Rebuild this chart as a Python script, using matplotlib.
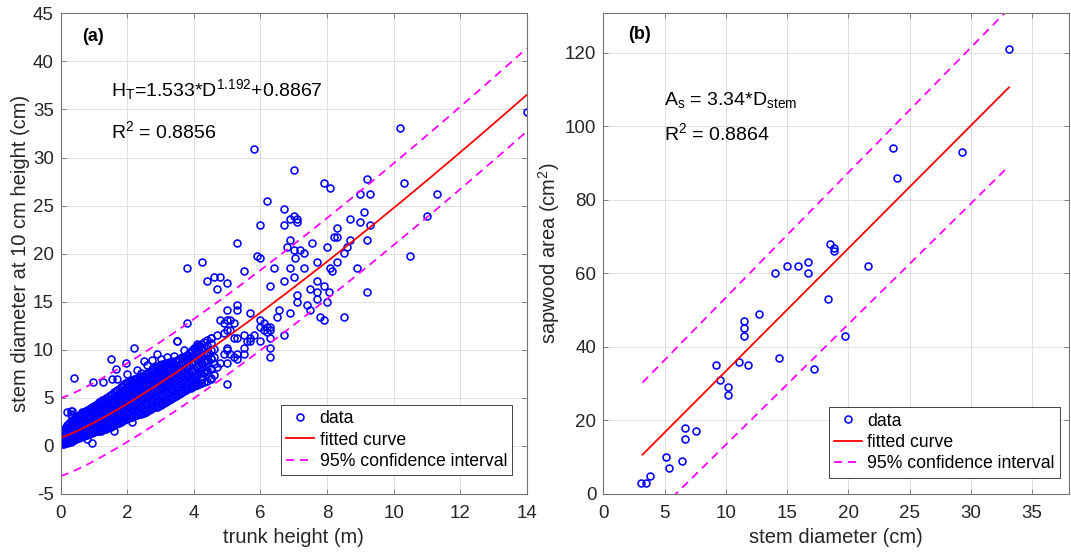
import numpy as np
import matplotlib.pyplot as plt

plt.rcParams['font.family'] = ['Liberation Sans', 'DejaVu Sans']
plt.rcParams['mathtext.fontset'] = 'custom'
plt.rcParams['mathtext.rm'] = 'Liberation Sans'
plt.rcParams['mathtext.it'] = 'Liberation Sans:italic'
plt.rcParams['axes.unicode_minus'] = False

# ---- panel (a): trunk height vs stem diameter ----
# dense part of the cloud, one column of diameters per trunk height
dense_cols = [
    (0.05, [0.2, 0.3, 0.5, 0.8, 1.1, 1.4]),
    (0.10, [0.2, 0.4, 0.6, 0.9, 1.2, 1.5, 1.8]),
    (0.15, [0.3, 0.5, 0.8, 1.0, 1.3, 1.7, 2.0]),
    (0.20, [0.3, 0.5, 0.7, 1.1, 1.4, 1.8, 2.2, 3.5]),
    (0.25, [0.4, 0.6, 0.9, 1.2, 1.6, 1.9, 2.4]),
    (0.30, [0.4, 0.7, 1.0, 1.3, 1.7, 2.1, 2.6, 3.3]),
    (0.35, [0.5, 0.8, 1.1, 1.5, 1.9, 2.3, 2.7, 3.6]),
    (0.40, [0.6, 0.9, 1.2, 1.6, 2.0, 2.5, 2.8]),
    (0.45, [0.7, 1.0, 1.4, 1.7, 2.2, 2.6, 3.0]),
    (0.50, [0.8, 1.1, 1.5, 1.9, 2.3, 2.7, 3.0]),
    (0.55, [0.8, 1.2, 1.6, 2.0, 2.5, 2.9, 3.2]),
    (0.60, [0.9, 1.3, 1.7, 2.1, 2.6, 3.0, 3.3]),
    (0.65, [1.0, 1.4, 1.8, 2.3, 2.7, 3.1, 3.5]),
    (0.70, [1.0, 1.4, 1.9, 2.4, 2.8, 3.2, 3.5]),
    (0.75, [1.1, 1.5, 2.0, 2.5, 2.9, 3.3, 3.6]),
    (0.80, [0.7, 1.1, 1.6, 2.1, 2.5, 3.0, 3.4, 3.7]),
    (0.85, [1.2, 1.7, 2.2, 2.6, 3.1, 3.5, 3.8]),
    (0.90, [1.3, 1.8, 2.3, 2.7, 3.2, 3.6, 3.9]),
    (0.95, [0.3, 1.3, 1.8, 2.3, 2.8, 3.3, 3.7, 4.1]),
    (1.00, [1.4, 1.9, 2.4, 2.9, 3.4, 3.8, 4.2]),
    (1.05, [1.5, 2.0, 2.5, 3.0, 3.5, 4.0, 4.3]),
    (1.10, [1.5, 2.0, 2.6, 3.1, 3.6, 4.1, 4.4]),
    (1.15, [1.6, 2.1, 2.6, 3.1, 3.7, 4.2, 4.6]),
    (1.20, [1.6, 2.2, 2.7, 3.2, 3.8, 4.3, 4.6]),
    (1.25, [1.7, 2.2, 2.8, 3.3, 3.9, 4.4, 4.8]),
    (1.30, [1.8, 2.3, 2.9, 3.4, 4.0, 4.5, 4.8]),
    (1.35, [1.8, 2.4, 3.0, 3.5, 4.1, 4.6, 5.0]),
    (1.40, [1.9, 2.5, 3.0, 3.6, 4.2, 4.7, 5.0]),
    (1.45, [2.0, 2.5, 3.1, 3.7, 4.3, 4.8, 5.2]),
    (1.50, [2.0, 2.6, 3.2, 3.8, 4.4, 4.9, 5.3]),
    (1.55, [2.1, 2.7, 3.3, 3.9, 4.5, 5.0, 5.4]),
    (1.60, [1.6, 2.2, 2.8, 3.4, 4.0, 4.6, 5.1, 5.6]),
    (1.65, [2.3, 2.9, 3.5, 4.1, 4.7, 5.2, 5.7]),
    (1.70, [2.4, 3.0, 3.6, 4.2, 4.8, 5.3, 5.8]),
    (1.75, [2.4, 3.0, 3.7, 4.3, 4.9, 5.4, 5.9]),
    (1.80, [2.5, 3.1, 3.8, 4.4, 5.0, 5.6, 6.1]),
    (1.85, [2.6, 3.2, 3.9, 4.5, 5.1, 5.7, 6.2]),
    (1.90, [2.7, 3.3, 4.0, 4.6, 5.2, 5.8, 6.4]),
    (1.95, [2.8, 3.4, 4.1, 4.7, 5.3, 5.9, 6.5]),
    (2.00, [2.9, 3.5, 4.2, 4.8, 5.4, 6.0, 6.7]),
    (2.05, [2.9, 3.6, 4.3, 4.9, 5.5, 6.1, 6.7]),
    (2.10, [3.0, 3.7, 4.3, 5.0, 5.6, 6.2, 6.8]),
    (2.15, [2.5, 3.0, 3.7, 4.4, 5.1, 5.7, 6.3, 6.9]),
    (2.20, [3.1, 3.8, 4.5, 5.2, 5.8, 6.4, 7.0]),
    (2.25, [3.2, 3.9, 4.6, 5.3, 5.9, 6.5, 7.0]),
    (2.30, [3.2, 3.9, 4.7, 5.4, 6.0, 6.6, 7.1]),
    (2.35, [3.3, 4.0, 4.8, 5.5, 6.1, 6.7, 7.1]),
    (2.40, [3.3, 4.1, 4.9, 5.6, 6.2, 6.8, 7.2]),
    (2.45, [3.4, 4.2, 5.0, 5.7, 6.3, 6.9, 7.3]),
    (2.50, [3.4, 4.3, 5.1, 5.8, 6.4, 6.9, 7.3]),
    (2.55, [3.5, 4.4, 5.2, 5.9, 6.5, 7.0, 7.5]),
    (2.60, [3.6, 4.5, 5.3, 6.0, 6.6, 7.1, 7.6]),
    (2.65, [3.7, 4.6, 5.4, 6.1, 6.7, 7.3, 7.7]),
    (2.70, [3.8, 4.7, 5.5, 6.2, 6.8, 7.4, 7.8]),
    (2.75, [3.9, 4.8, 5.6, 6.3, 6.9, 7.5, 8.0]),
    (2.80, [4.0, 4.9, 5.7, 6.4, 7.0, 7.6, 8.1]),
    (2.85, [4.0, 5.0, 5.8, 6.5, 7.1, 7.7, 8.2]),
    (2.90, [4.1, 5.0, 5.9, 6.6, 7.2, 7.8, 8.3, 9.6]),
    (2.95, [4.2, 5.1, 6.0, 6.7, 7.3, 7.9, 8.3]),
    (3.00, [4.3, 5.2, 6.1, 6.8, 7.4, 8.0, 8.4]),
    (3.05, [4.4, 5.3, 6.2, 6.9, 7.5, 8.1, 8.5]),
    (3.10, [4.5, 5.4, 6.3, 7.0, 7.6, 8.2, 8.5]),
    (3.15, [4.6, 5.5, 6.3, 7.1, 7.7, 8.2, 8.6]),
    (3.20, [4.7, 5.6, 6.4, 7.2, 7.8, 8.3, 8.6]),
    (3.25, [4.8, 5.7, 6.5, 7.2, 7.8, 8.4, 8.7]),
    (3.30, [4.9, 5.8, 6.6, 7.3, 7.9, 8.4, 8.7]),
    (3.35, [5.0, 5.9, 6.7, 7.4, 8.0, 8.5, 8.8]),
    (3.40, [5.1, 6.0, 6.8, 7.5, 8.1, 8.5]),
    (3.45, [5.2, 6.1, 6.9, 7.6, 8.2, 8.8]),
    (3.50, [5.3, 6.2, 7.0, 7.7, 8.3, 8.9]),
    (3.55, [5.4, 6.3, 7.1, 7.8, 8.4, 9.0]),
    (3.60, [5.5, 6.4, 7.2, 7.9, 8.5, 9.1]),
    (3.65, [5.6, 6.5, 7.3, 8.0, 8.7, 9.2]),
    (3.70, [5.7, 6.6, 7.4, 8.1, 8.8, 9.3]),
    (3.75, [5.8, 6.7, 7.5, 8.2, 8.9, 9.4]),
    (3.80, [5.9, 6.8, 7.6, 8.3, 9.0, 9.5]),
    (3.85, [6.0, 6.9, 7.7, 8.4, 9.1, 9.7]),
    (3.90, [6.0, 7.0, 7.8, 8.6, 9.2, 9.8]),
    (3.95, [6.1, 7.1, 7.9, 8.7, 9.4, 10.0]),
    (4.00, [6.2, 7.2, 8.0, 8.8, 9.5, 10.2]),
    (4.05, [6.3, 7.3, 8.2, 9.0, 9.6, 10.3]),
    (4.10, [6.3, 7.4, 8.3, 9.1, 9.8, 10.4]),
    (4.15, [6.4, 7.5, 8.4, 9.2, 9.9, 10.5]),
    (4.20, [6.5, 7.6, 8.5, 9.3, 10.0, 10.6]),
    (4.25, [7.0, 8.6, 9.4, 10.1]),
    (4.30, [6.6, 7.7, 8.7, 9.5, 10.2, 10.8]),
    (4.35, [7.8, 8.8, 9.6]),
    (4.40, [6.8, 7.9, 8.9, 9.8, 10.5, 11.0]),
    (4.50, [7.0, 8.1, 9.1, 10.0, 10.7, 11.2]),
    (4.60, [7.4, 8.5, 9.3, 10.1]),
]

# scattered trees around and above the dense cloud
sparse_pts = [
    (14.0, 34.7), (10.2, 33.1), (5.8, 30.9), (7.0, 28.7), (7.9, 27.4), (8.1, 26.8),
    (9.2, 27.8), (10.3, 27.4), (6.2, 25.5), (9.0, 26.2), (9.3, 26.2), (11.3, 26.2),
    (6.7, 24.6), (9.1, 24.3), (11.0, 23.9), (7.0, 23.9), (6.9, 23.6), (7.1, 23.6),
    (7.1, 23.3), (6.7, 23.0), (6.0, 23.0), (8.7, 23.6), (9.0, 23.3), (9.3, 23.0),
    (8.3, 22.7), (8.2, 21.7), (8.3, 21.7), (8.7, 21.4), (9.2, 21.4), (5.3, 21.1),
    (7.55, 21.1), (6.9, 21.4), (6.8, 20.7), (8.0, 20.7), (8.6, 20.7), (7.0, 20.4),
    (7.2, 20.4), (7.3, 20.1), (8.5, 20.1), (10.5, 19.8), (5.9, 19.8), (6.0, 19.5),
    (7.05, 19.5), (7.7, 19.1), (8.3, 19.1), (4.25, 19.1), (3.8, 18.5), (6.4, 18.5),
    (6.9, 18.5), (7.3, 18.5), (8.1, 18.5), (8.15, 18.2), (8.9, 18.5), (5.5, 18.2),
    (7.0, 17.6), (4.6, 17.6), (4.8, 17.6), (4.4, 17.2), (6.7, 17.2), (7.7, 17.2),
    (5.0, 16.9), (6.3, 16.6), (7.9, 16.6), (4.7, 16.3), (7.5, 16.3), (7.7, 16.0),
    (8.07, 16.0), (9.2, 16.0), (7.1, 15.7), (8.0, 15.0), (7.7, 15.3), (7.1, 15.0),
    (7.4, 14.7), (5.3, 14.7), (7.5, 14.1), (5.3, 14.1), (5.0, 14.1), (6.55, 14.1),
    (5.7, 13.8), (6.9, 13.8), (6.5, 13.4), (7.8, 13.4), (8.5, 13.4), (7.9, 13.1),
    (4.8, 13.1), (3.8, 12.8), (4.9, 12.8), (5.0, 13.1), (5.1, 13.1), (5.2, 12.8),
    (6.0, 13.1), (6.1, 12.8), (6.0, 12.4), (6.2, 12.4), (6.3, 12.4), (6.1, 12.1),
    (6.3, 12.1), (6.2, 11.9), (5.0, 12.1), (5.1, 12.1), (4.9, 11.7), (5.5, 11.5),
    (5.3, 11.2), (5.2, 11.2), (5.8, 11.5), (5.7, 11.2), (6.7, 11.5), (6.3, 11.2),
    (6.0, 10.9), (5.6, 10.9), (5.7, 10.9), (4.5, 11.2), (4.7, 11.5), (3.5, 10.9),
    (4.1, 10.6), (6.3, 10.2), (5.0, 10.2), (5.0, 10.0), (5.5, 10.2), (4.9, 9.6),
    (5.1, 9.6), (5.3, 9.6), (5.5, 9.6), (5.2, 9.3), (6.3, 9.3), (5.3, 9.0),
    (4.5, 9.0), (5.0, 8.6), (4.8, 8.6), (4.5, 8.0), (4.7, 8.2), (4.3, 7.6),
    (4.5, 7.1), (5.0, 6.4), (4.2, 6.5),
    (1.5, 9.0), (2.2, 10.2), (1.95, 8.6), (1.65, 8.0), (0.4, 7.1), (0.97, 6.7),
    (1.26, 6.7), (2.4, 7.6), (2.5, 8.8), (1.55, 7.0), (1.7, 7.0), (2.0, 7.5),
    (2.3, 7.9), (2.6, 8.4), (2.75, 8.9), (3.2, 9.3), (3.0, 9.0), (3.4, 9.4),
    (3.7, 10.0), (0.3, 3.6), (0.35, 3.1), (3.5, 10.9),
]

# fitted curve  y = a * x^b + c  and its 95% band offsets
fit_a, fit_b, fit_c = 1.533, 1.192, 0.8867
band_up = (4.1, 4.85)     # offset above the fit at x = 0 and x = 14
band_low = (4.0, 3.8)     # offset below the fit at x = 0 and x = 14

# ---- panel (b): stem diameter vs sapwood area ----
stem_diam = [3.1, 3.5, 3.8, 5.1, 5.4, 6.4, 6.7, 6.7, 7.6, 9.2, 9.5, 10.2, 10.2,
             11.1, 11.5, 11.5, 11.5, 11.8, 12.7, 14.0, 14.3, 15.0, 15.9, 16.7,
             16.7, 17.2, 18.3, 18.5, 18.8, 18.8, 19.7, 21.6, 23.6, 24.0, 29.3, 33.1]
sap_area = [3, 3, 5, 10, 7, 9, 18, 15, 17, 35, 31, 29, 27,
            36, 47, 45, 43, 35, 49, 60, 37, 62, 62, 63,
            60, 34, 53, 68, 67, 66, 43, 62, 94, 86, 93, 121]
slope_b = 3.34
band_b = (19.6, 21.4)     # half-width of the band at the two ends of the line

# flatten the cloud
trunk_h = [x for x, ys in dense_cols for _ in ys] + [p[0] for p in sparse_pts]
diam_10 = [y for _, ys in dense_cols for y in ys] + [p[1] for p in sparse_pts]

BLUE = (0, 0, 1)
RED = (1, 0, 0)
MAG = (1, 0, 1)
TXT = (0.15, 0.15, 0.15)

fig = plt.figure(figsize=(10.71, 5.52), dpi=100)
ax1 = fig.add_axes([0.0567, 0.1051, 0.4351, 0.8708])
ax2 = fig.add_axes([0.5633, 0.1051, 0.4348, 0.8708])


def style(ax):
    ax.grid(True, color=(0.88, 0.88, 0.88), lw=0.7)
    ax.set_axisbelow(True)
    for s in ax.spines.values():
        s.set_color((0.45, 0.45, 0.45))
        s.set_linewidth(0.8)
    ax.tick_params(direction='in', length=3.5, width=0.6, colors=(0.45, 0.45, 0.45),
                   labelcolor=TXT, labelsize=13.5, top=True, right=True)
    ax.tick_params(axis='y', pad=5)
    ax.tick_params(axis='x', pad=8)


def dashed(ax, x, y, label=None):
    ln, = ax.plot(x, y, color=MAG, lw=1.3, label=label)
    ln.set_dashes((4.5, 3.2))
    return ln


# panel (a)
ax1.plot(trunk_h, diam_10, 'o', ms=5, mfc='none', mec=BLUE, mew=1.15, label='data')
xf = np.linspace(0.05, 14, 300)
yf = fit_a * xf ** fit_b + fit_c
ax1.plot(xf, yf, color=RED, lw=1.3, label='fitted curve')
xb = np.linspace(0, 14, 300)
yb = fit_a * xb ** fit_b + fit_c
up = band_up[0] + (band_up[1] - band_up[0]) * xb / 14
lo = band_low[0] + (band_low[1] - band_low[0]) * xb / 14
dashed(ax1, xb, yb + up, '95% confidence interval')
dashed(ax1, xb, yb - lo)
ax1.set_xlim(0, 14)
ax1.set_ylim(-5, 45)
ax1.set_xticks(np.arange(0, 15, 2))
ax1.set_yticks(np.arange(-5, 46, 5))
style(ax1)
ax1.set_xlabel('trunk height (m)', fontsize=14.5, color=TXT, labelpad=4)
ax1.set_ylabel('stem diameter at 10 cm height (cm)', fontsize=14.5, color=TXT, labelpad=2)
ax1.text(0.045, 0.951, '(a)', transform=ax1.transAxes, fontsize=13,
         fontweight='bold', va='center', color='k')
ax1.text(0.107, 0.828, r'H$_\mathregular{T}$=1.533*D$^\mathregular{1.192}$+0.8867',
         transform=ax1.transAxes, fontsize=14, va='baseline', color='k')
ax1.text(0.107, 0.740, r'R$^\mathregular{2}$ = 0.8856', transform=ax1.transAxes,
         fontsize=14, va='baseline', color='k')
leg1 = ax1.legend(loc='lower right', bbox_to_anchor=(0.969, 0.039), fontsize=12.7,
                  fancybox=False, framealpha=1, edgecolor=(0.15, 0.15, 0.15),
                  handlelength=1.6, handletextpad=0.3, borderpad=0.3,
                  labelspacing=0.25, borderaxespad=0)
leg1.get_frame().set_linewidth(0.6)

# panel (b)
ax2.plot(stem_diam, sap_area, 'o', ms=5, mfc='none', mec=BLUE, mew=1.15, label='data')
xl = np.linspace(min(stem_diam) + 0.1, max(stem_diam), 100)
yl = slope_b * xl
ax2.plot(xl, yl, color=RED, lw=1.3, label='fitted curve')
hw = band_b[0] + (band_b[1] - band_b[0]) * (xl - xl[0]) / (xl[-1] - xl[0])
dashed(ax2, xl, yl + hw, '95% confidence interval')
dashed(ax2, xl, yl - hw)
ax2.set_xlim(0, 38)
ax2.set_ylim(0, 130.7)
ax2.set_xticks(np.arange(0, 36, 5))
ax2.set_yticks(np.arange(0, 121, 20))
style(ax2)
ax2.set_xlabel('stem diameter (cm)', fontsize=14.5, color=TXT, labelpad=4)
ax2.set_ylabel(r'sapwood area (cm$^\mathregular{2}$)', fontsize=14.5, color=TXT, labelpad=2)
ax2.text(0.053, 0.955, '(b)', transform=ax2.transAxes, fontsize=13,
         fontweight='bold', va='center', color='k')
ax2.text(0.131, 0.81, r'A$_\mathregular{s}$ = 3.34*D$_\mathregular{stem}$',
         transform=ax2.transAxes, fontsize=14, va='baseline', color='k')
ax2.text(0.131, 0.737, r'R$^\mathregular{2}$ = 0.8864', transform=ax2.transAxes,
         fontsize=14, va='baseline', color='k')
leg2 = ax2.legend(loc='lower right', bbox_to_anchor=(0.981, 0.034), fontsize=12.7,
                  fancybox=False, framealpha=1, edgecolor=(0.15, 0.15, 0.15),
                  handlelength=1.6, handletextpad=0.3, borderpad=0.3,
                  labelspacing=0.25, borderaxespad=0)
leg2.get_frame().set_linewidth(0.6)

fig.savefig('out.png', dpi=100)
